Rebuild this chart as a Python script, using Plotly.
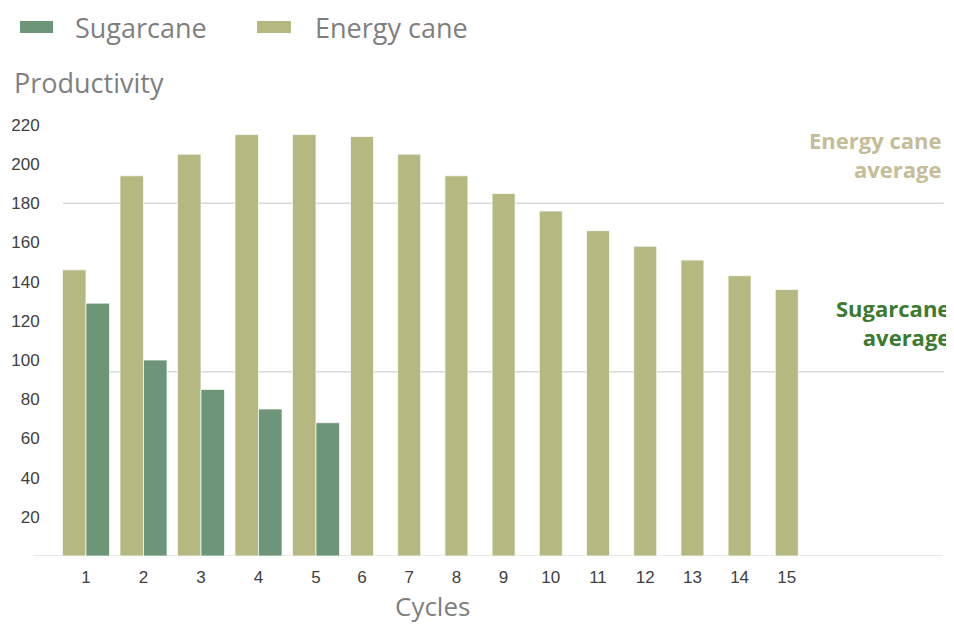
import plotly.graph_objects as go

# ---- data ----
cycles = [str(c) for c in range(1, 16)]
energy_cane = [146, 194, 205, 215, 215, 214, 205, 194, 185, 176, 166, 158, 151, 143, 136]
sugarcane = [129, 100, 85, 75, 68]
energy_cane_average = 180
sugarcane_average = 94
y_ticks = [20, 40, 60, 80, 100, 120, 140, 160, 180, 200, 220]

# ---- styles ----
C_ENERGY = "#b5b981"
C_SUGAR = "#6c9677"
C_ENERGY_TXT = "#c4bd97"
C_SUGAR_TXT = "#3b7b30"
C_GREY_TXT = "#7f7f7f"
TICK_FONT = dict(family="Liberation Sans, Arial, sans-serif", size=17, color="#404040")
BIG_FONT = "Open Sans, sans-serif"
EDGE = dict(color="rgba(255,255,255,0.7)", width=1)

n_pairs = len(sugarcane)

fig = go.Figure()
# cycles with both crops (grouped pairs)
fig.add_trace(go.Bar(x=cycles[:n_pairs], y=energy_cane[:n_pairs], name="Energy cane",
                     marker=dict(color=C_ENERGY, line=EDGE), width=0.409, offset=-0.409,
                     xaxis="x", yaxis="y", showlegend=False))
fig.add_trace(go.Bar(x=cycles[:n_pairs], y=sugarcane, name="Sugarcane",
                     marker=dict(color=C_SUGAR, line=EDGE), width=0.409, offset=0,
                     xaxis="x", yaxis="y", showlegend=False))
# cycles with energy cane only
fig.add_trace(go.Bar(x=cycles[n_pairs:], y=energy_cane[n_pairs:], name="Energy cane",
                     marker=dict(color=C_ENERGY, line=EDGE), width=0.487, offset=-0.2435,
                     xaxis="x2", yaxis="y", showlegend=False))

axis_common = dict(type="category", showgrid=False, zeroline=False, showline=False,
                   ticks="outside", ticklen=6, tickcolor="rgba(0,0,0,0)",
                   tickfont=TICK_FONT, fixedrange=True, automargin=False)

shapes = [
    # baseline
    dict(type="line", xref="paper", yref="y", x0=-0.0134, x1=1.0, y0=0, y1=0,
         line=dict(color="#e3e3e3", width=1.5), layer="below"),
    # average lines
    dict(type="line", xref="paper", yref="y", x0=0.02, x1=1.001,
         y0=energy_cane_average, y1=energy_cane_average,
         line=dict(color="#dadada", width=1.5), layer="below"),
    dict(type="line", xref="paper", yref="y", x0=0.02, x1=1.001,
         y0=sugarcane_average, y1=sugarcane_average,
         line=dict(color="#dadada", width=1.5), layer="below"),
    # legend swatches
    dict(type="rect", xref="paper", yref="paper", x0=-0.0278, x1=0.0089, y0=1.1859, y1=1.2132,
         fillcolor=C_SUGAR, line=dict(width=0)),
    dict(type="rect", xref="paper", yref="paper", x0=0.2361, x1=0.2739, y0=1.1859, y1=1.2132,
         fillcolor=C_ENERGY, line=dict(width=0)),
]

annotations = [
    dict(text="Sugarcane", xref="paper", yref="paper", x=0.0312, y=1.1995,
         xanchor="left", yanchor="middle", showarrow=False,
         font=dict(family=BIG_FONT, size=27, color=C_GREY_TXT)),
    dict(text="Energy cane", xref="paper", yref="paper", x=0.2979, y=1.1995,
         xanchor="left", yanchor="middle", showarrow=False,
         font=dict(family=BIG_FONT, size=27, color=C_GREY_TXT)),
    dict(text="Productivity", xref="paper", yref="paper", x=-0.0367, y=1.0726,
         xanchor="left", yanchor="middle", showarrow=False,
         font=dict(family=BIG_FONT, size=27, color=C_GREY_TXT)),
    dict(text="Cycles", xref="paper", yref="paper", x=0.431, y=-0.1135,
         xanchor="center", yanchor="middle", showarrow=False, borderpad=0,
         font=dict(family=BIG_FONT, size=26, color=C_GREY_TXT)),
    dict(text="<b>Energy cane</b><br><b>average</b>", xref="paper", yref="paper",
         x=0.9995, y=0.91, xanchor="right", yanchor="middle", align="right", showarrow=False,
         font=dict(family=BIG_FONT, size=22, color=C_ENERGY_TXT)),
    dict(text="<b>Sugarcane</b><br><b>average</b>", xref="paper", yref="paper",
         x=1.0095, y=0.53, xanchor="right", yanchor="middle", align="right", showarrow=False,
         font=dict(family=BIG_FONT, size=22, color=C_SUGAR_TXT)),
]

fig.update_layout(
    width=946, height=617,
    margin=dict(l=37, r=11, t=107, b=69, autoexpand=False),
    paper_bgcolor="white", plot_bgcolor="rgba(0,0,0,0)",
    barmode="overlay",
    showlegend=False,
    xaxis=dict(domain=[0.01364, 0.3338], range=[-0.5, n_pairs - 0.5], **axis_common),
    xaxis2=dict(domain=[0.32673, 0.85234], range=[-0.5, len(cycles) - n_pairs - 0.5],
                anchor="y", **axis_common),
    yaxis=dict(range=[0, 225], tickvals=y_ticks, anchor="free", position=0,
               showgrid=False, zeroline=False, automargin=False,
               showline=False, ticks="outside", ticklen=2, tickcolor="rgba(0,0,0,0)",
               tickfont=TICK_FONT, fixedrange=True),
    shapes=shapes,
    annotations=annotations,
)

fig.write_html("out.html")
